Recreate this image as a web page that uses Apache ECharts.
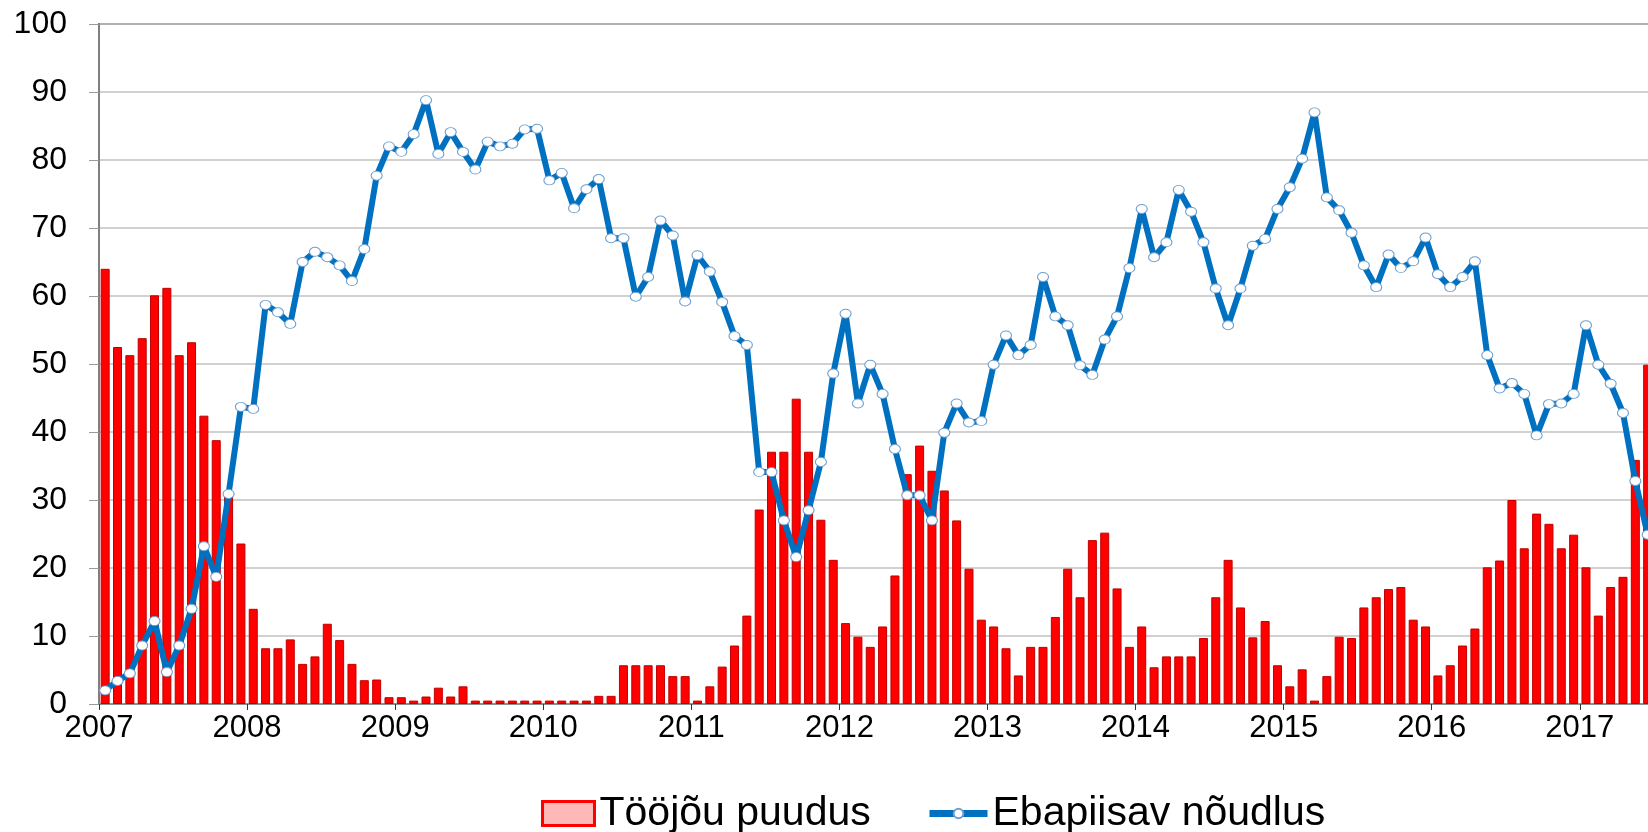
<!DOCTYPE html>
<html>
<head>
<meta charset="utf-8">
<script src="https://cdn.jsdelivr.net/npm/echarts@6/dist/echarts.min.js"></script>
<style>
html,body{margin:0;padding:0;background:#fff;overflow:hidden;width:1648px;height:832px;}
#chart{width:1720px;height:832px;}
</style>
</head>
<body>
<div id="chart"></div>
<script>
// ---- data ----
const years = ['2007','2008','2009','2010','2011','2012','2013','2014','2015','2016','2017'];
const monthsInLastYear = 6;

const seriesNames = ['Tööjõu puudus', 'Ebapiisav nõudlus'];

// Tööjõu puudus (bars), monthly
const labourShortage = [
  64.0,52.5,51.3,53.8,60.1,61.2,51.3,53.2,42.4,38.8,30.5,23.6,
  14.0,8.2,8.2,9.5,5.9,7.0,11.8,9.4,5.9,3.5,3.6,1.0,
  1.0,0.5,1.1,2.4,1.1,2.6,0.5,0.5,0.5,0.5,0.5,0.5,
  0.5,0.5,0.5,0.5,1.2,1.2,5.7,5.7,5.7,5.7,4.1,4.1,
  0.5,2.6,5.5,8.6,13.0,28.6,37.1,37.1,44.9,37.1,27.1,21.2,
  11.9,9.9,8.4,11.4,18.9,33.8,38.0,34.3,31.4,27.0,19.9,12.4,
  11.4,8.2,4.2,8.4,8.4,12.8,19.9,15.7,24.1,25.2,17.0,8.4,
  11.4,5.4,7.0,7.0,7.0,9.7,15.7,21.2,14.2,9.8,12.2,5.7,
  2.6,5.1,0.5,4.1,9.9,9.7,14.2,15.7,16.9,17.2,12.4,11.4,
  4.2,5.7,8.6,11.1,20.1,21.1,30.0,22.9,28.0,26.5,22.9,24.9,
  20.1,13.0,17.2,18.7,35.9,49.9
];

// Ebapiisav nõudlus (line), monthly
const weakDemand = [
  2.0,3.4,4.5,8.6,12.2,4.7,8.6,14.0,23.2,18.7,30.9,43.7,
  43.4,58.7,57.6,55.9,65.0,66.5,65.7,64.5,62.2,66.9,77.7,82.0,
  81.2,83.8,88.8,80.9,84.1,81.2,78.6,82.7,82.0,82.4,84.5,84.6,
  77.0,78.1,72.9,75.7,77.2,68.5,68.5,59.9,62.8,71.1,68.9,59.2,
  66.0,63.6,59.1,54.1,52.8,34.1,34.1,27.0,21.6,28.5,35.6,48.6,
  57.4,44.2,49.9,45.6,37.5,30.7,30.7,27.0,39.9,44.2,41.4,41.6,
  49.9,54.2,51.3,52.8,62.8,57.0,55.7,49.8,48.4,53.6,57.0,64.1,
  72.8,65.7,67.9,75.6,72.4,67.9,61.1,55.7,61.1,67.4,68.4,72.8,
  76.0,80.2,87.0,74.5,72.6,69.3,64.5,61.3,66.1,64.1,65.1,68.6,
  63.2,61.3,62.8,65.1,51.3,46.4,47.2,45.6,39.5,44.1,44.2,45.6,
  55.7,49.9,47.1,42.8,32.8,24.9
];

const yTicks = [0,10,20,30,40,50,60,70,80,90,100];

// ---- build categories (year-month) ----
const categories = [];
years.forEach((y, yi) => {
  const n = (yi === years.length - 1) ? monthsInLastYear : 12;
  for (let m = 1; m <= n; m++) categories.push(y + '-' + String(m).padStart(2, '0'));
});
const nMonths = categories.length;

const FONT = '"Liberation Sans", Arial, sans-serif';
const chart = echarts.init(document.getElementById('chart'), null, {renderer: 'canvas'});

const legendText = {fontSize: 41, fontFamily: FONT, color: '#000'};

chart.setOption({
  animation: false,
  backgroundColor: '#ffffff',
  grid: {
    left: 99, top: 24, height: 680, width: 12.34 * nMonths,
    show: true, borderColor: '#7f7f7f', borderWidth: 2, backgroundColor: 'transparent'
  },
  legend: [
    {
      left: 536, top: 788,
      itemWidth: 52, itemHeight: 24,
      textStyle: legendText,
      data: [
        {name: seriesNames[0], icon: 'rect',
         itemStyle: {color: '#ffb8b8', borderColor: '#ff0000', borderWidth: 3}}
      ]
    },
    {
      left: 921, top: 788,
      itemWidth: 58, itemHeight: 12,
      textStyle: legendText,
      lineStyle: {width: 7, color: '#0070c0'},
      data: [{name: seriesNames[1]}]
    }
  ],
  xAxis: [
    {
      type: 'category', data: categories, boundaryGap: true,
      axisLine: {show: false}, axisTick: {show: false}, axisLabel: {show: false},
      splitLine: {show: false}
    },
    {
      type: 'value', min: 0, max: nMonths, interval: 12, position: 'bottom',
      axisLine: {show: true, onZero: false, lineStyle: {color: '#869494', width: 2}},
      axisTick: {show: true, length: 6, lineStyle: {color: '#333', width: 1}},
      splitLine: {show: false},
      axisLabel: {
        margin: 9, fontSize: 31, fontFamily: FONT, color: '#000',
        formatter: v => (v % 12 === 0 && years[v / 12]) ? years[v / 12] : ''
      }
    }
  ],
  yAxis: {
    type: 'value', min: 0, max: 100, interval: 10,
    axisLine: {show: true, lineStyle: {color: '#7f7f7f', width: 2}},
    axisTick: {show: true, length: 10, lineStyle: {color: '#9a9a9a', width: 1}},
    splitLine: {show: true, lineStyle: {color: '#c2c2c2', width: 1.5}},
    axisLabel: {
      margin: 32, fontSize: 32, fontFamily: FONT, color: '#000',
      formatter: v => yTicks.indexOf(v) >= 0 ? String(v) : ''
    }
  },
  series: [
    {
      name: seriesNames[0], type: 'bar', xAxisIndex: 0, data: labourShortage,
      barWidth: 9,
      itemStyle: {color: '#ff0000', borderColor: '#c00000', borderWidth: 1},
      z: 2
    },
    {
      name: seriesNames[1], type: 'line', xAxisIndex: 0, data: weakDemand,
      symbol: 'circle', symbolSize: [11, 9], showAllSymbol: true,
      lineStyle: {color: '#0070c0', width: 6},
      itemStyle: {color: '#ffffff', borderColor: '#6f9fcf', borderWidth: 1},
      z: 3
    }
  ]
});
</script>
</body>
</html>
